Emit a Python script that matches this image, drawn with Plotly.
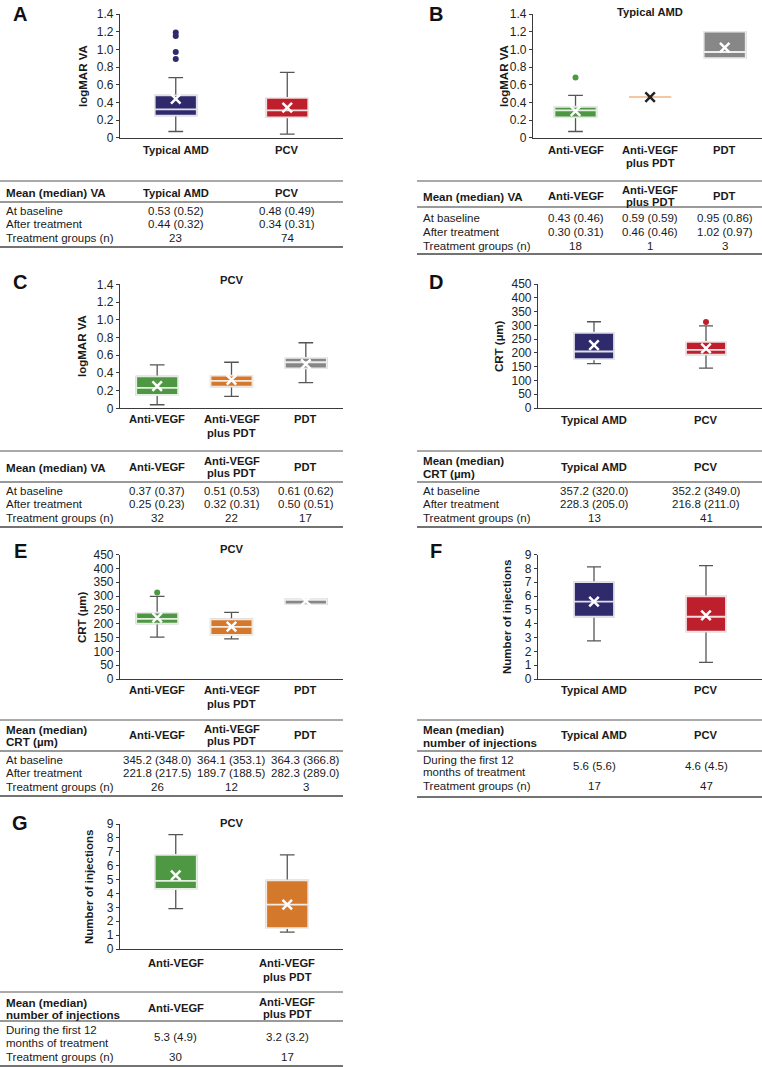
import plotly.graph_objects as go

W, H = 762, 1067
FONT = "Liberation Sans, Arial, sans-serif"
TXT = "#1a1a1a"
AXIS = "#3a3a3a"
WHISK = "#555555"
NAVY = "#2e2a6c"
RED = "#bd1f2c"
GREEN = "#4f9843"
ORANGE = "#d4782c"
GRAY = "#878787"
PEACH = "#f4c6a2"
OUTLINE = "rgba(255,255,255,0.85)"

# ---------------- data ----------------
# Panel A: logMAR VA, Typical AMD vs PCV
a_cats = ["Typical AMD", "PCV"]
a_q1 = [0.25, 0.23]
a_med = [0.32, 0.31]
a_q3 = [0.48, 0.45]
a_lo = [0.07, 0.04]
a_hi = [0.68, 0.74]
a_mean = [0.44, 0.34]
a_out_x = ["Typical AMD", "Typical AMD", "Typical AMD", "Typical AMD"]
a_out_y = [0.89, 0.97, 1.15, 1.19]
a_tab_base = ["0.53 (0.52)", "0.48 (0.49)"]
a_tab_after = ["0.44 (0.32)", "0.34 (0.31)"]
a_tab_n = ["23", "74"]

# Panel B: logMAR VA, Typical AMD by treatment
b_cats = ["Anti-VEGF", "Anti-VEGF plus PDT", "PDT"]
b_q1 = [0.23, 0.46, 0.90]
b_med = [0.31, 0.46, 0.97]
b_q3 = [0.35, 0.46, 1.20]
b_lo = [0.07, 0.46, 0.90]
b_hi = [0.48, 0.46, 1.20]
b_mean = [0.30, 0.46, 1.02]
b_out_x = ["Anti-VEGF"]
b_out_y = [0.68]
b_tab_base = ["0.43 (0.46)", "0.59 (0.59)", "0.95 (0.86)"]
b_tab_after = ["0.30 (0.31)", "0.46 (0.46)", "1.02 (0.97)"]
b_tab_n = ["18", "1", "3"]

# Panel C: logMAR VA, PCV by treatment
c_cats = ["Anti-VEGF", "Anti-VEGF plus PDT", "PDT"]
c_q1 = [0.15, 0.245, 0.45]
c_med = [0.23, 0.31, 0.52]
c_q3 = [0.36, 0.37, 0.57]
c_lo = [0.04, 0.135, 0.29]
c_hi = [0.49, 0.52, 0.74]
c_mean = [0.25, 0.32, 0.50]
c_tab_base = ["0.37 (0.37)", "0.51 (0.53)", "0.61 (0.62)"]
c_tab_after = ["0.25 (0.23)", "0.32 (0.31)", "0.50 (0.51)"]
c_tab_n = ["32", "22", "17"]

# Panel D: CRT, Typical AMD vs PCV
d_cats = ["Typical AMD", "PCV"]
d_q1 = [177, 194]
d_med = [205, 211]
d_q3 = [273, 240]
d_lo = [161, 145]
d_hi = [313, 298]
d_mean = [228.3, 216.8]
d_out_x = ["PCV"]
d_out_y = [312]
d_tab_base = ["357.2 (320.0)", "352.2 (349.0)"]
d_tab_after = ["228.3 (205.0)", "216.8 (211.0)"]
d_tab_n = ["13", "41"]

# Panel E: CRT, PCV by treatment
e_cats = ["Anti-VEGF", "Anti-VEGF plus PDT", "PDT"]
e_q1 = [200, 159, 270]
e_med = [217.5, 188.5, 289]
e_q3 = [240, 216, 290]
e_lo = [151, 145, 270]
e_hi = [299, 241, 290]
e_mean = [221.8, 189.7, 282.3]
e_out_x = ["Anti-VEGF"]
e_out_y = [313]
e_tab_base = ["345.2 (348.0)", "364.1 (353.1)", "364.3 (366.8)"]
e_tab_after = ["221.8 (217.5)", "189.7 (188.5)", "282.3 (289.0)"]
e_tab_n = ["26", "12", "3"]

# Panel F: injections, Typical AMD vs PCV
f_cats = ["Typical AMD", "PCV"]
f_q1 = [4.5, 3.42]
f_med = [5.6, 4.5]
f_q3 = [7.0, 5.98]
f_lo = [2.75, 1.2]
f_hi = [8.1, 8.2]
f_mean = [5.6, 4.6]
f_tab_first = ["5.6 (5.6)", "4.6 (4.5)"]
f_tab_n = ["17", "47"]

# Panel G: injections, PCV by treatment
g_cats = ["Anti-VEGF", "Anti-VEGF plus PDT"]
g_q1 = [4.32, 1.5]
g_med = [4.9, 3.2]
g_q3 = [6.77, 4.94]
g_lo = [2.9, 1.22]
g_hi = [8.23, 6.77]
g_mean = [5.3, 3.2]
g_tab_first = ["5.3 (4.9)", "3.2 (3.2)"]
g_tab_n = ["30", "17"]

va_ticks = [0, 0.2, 0.4, 0.6, 0.8, 1.0, 1.2, 1.4]
va_ticktext = ["0", "0.2", "0.4", "0.6", "0.8", "1.0", "1.2", "1.4"]
crt_ticks = [0, 50, 100, 150, 200, 250, 300, 350, 400, 450]
inj_ticks = [0, 1, 2, 3, 4, 5, 6, 7, 8, 9]

cat_labels = {
    "Typical AMD": ["Typical AMD"],
    "PCV": ["PCV"],
    "Anti-VEGF": ["Anti-VEGF"],
    "Anti-VEGF plus PDT": ["Anti-VEGF", "plus PDT"],
    "PDT": ["PDT"],
}

# ---------------- helpers ----------------
fig = go.Figure()
annotations = []
shapes = []
layout_axes = {}


def py(y):
    return 1 - y / H


def txt(x, y, s, size=11.5, bold=False, xanchor="center", xref="paper", angle=0, color=TXT):
    annotations.append(dict(
        x=(x / W) if xref == "paper" else x, y=py(y), xref=xref, yref="paper",
        text=f"<b>{s}</b>" if bold else s, showarrow=False,
        font=dict(size=size, family=FONT, color=color),
        xanchor=xanchor, yanchor="middle", textangle=angle))


def hline(x0, x1, y, color, width):
    shapes.append(dict(type="line", xref="paper", yref="paper", x0=x0 / W, x1=x1 / W,
                       y0=py(y), y1=py(y), line=dict(color=color, width=width)))


def add_panel(n, x0, x1, ytop, ybot, xrange, ymax, tickvals, ticktext, cats, colors,
              q1, med, q3, lo, hi, mean, boxw, label_y, title_y_lab, ylab_x, ylab,
              out_x=None, out_y=None, out_color=None, mean_colors=None,
              title=None, title_y=None):
    xa = "x" if n == 1 else f"x{n}"
    ya = "y" if n == 1 else f"y{n}"
    layout_axes["xaxis" if n == 1 else f"xaxis{n}"] = dict(
        domain=[x0 / W, x1 / W], range=xrange, type="category", categoryorder="array",
        categoryarray=cats, anchor=ya, showline=True, linecolor=AXIS, linewidth=1.2,
        showticklabels=False, ticks="", showgrid=False, zeroline=False, fixedrange=True,
        automargin=False)
    layout_axes["yaxis" if n == 1 else f"yaxis{n}"] = dict(
        domain=[py(ybot), py(ytop)], range=[0, ymax], anchor=xa, showline=True,
        linecolor=AXIS, linewidth=1.2, ticks="outside", ticklen=3, tickcolor=AXIS,
        tickwidth=1, tickvals=tickvals, ticktext=ticktext,
        tickfont=dict(size=12, family=FONT, color="#222222"),
        showgrid=False, zeroline=False, fixedrange=True, automargin=False)
    for i, c in enumerate(cats):
        # whiskers + caps
        fig.add_trace(go.Box(
            x=[c], q1=[q1[i]], median=[med[i]], q3=[q3[i]], lowerfence=[lo[i]],
            upperfence=[hi[i]], xaxis=xa, yaxis=ya, fillcolor=colors[i],
            line=dict(color=WHISK, width=1.3), whiskerwidth=0.35, width=boxw,
            boxpoints=False, showlegend=False, hoverinfo="skip"))
        # filled box with light outline and median line
        fig.add_trace(go.Box(
            x=[c], q1=[q1[i]], median=[med[i]], q3=[q3[i]], lowerfence=[q1[i]],
            upperfence=[q3[i]], xaxis=xa, yaxis=ya, fillcolor=colors[i],
            line=dict(color=OUTLINE, width=1.8), whiskerwidth=0, width=boxw,
            boxpoints=False, showlegend=False, hoverinfo="skip"))
    if out_x:
        fig.add_trace(go.Scatter(
            x=out_x, y=out_y, mode="markers", xaxis=xa, yaxis=ya,
            marker=dict(symbol="circle", size=6, color=out_color),
            showlegend=False, hoverinfo="skip", cliponaxis=False))
    mc = mean_colors if mean_colors else ["white"] * len(cats)
    fig.add_trace(go.Scatter(
        x=cats, y=mean, mode="markers", xaxis=xa, yaxis=ya,
        marker=dict(symbol="x-thin", size=9.5, line=dict(color=mc, width=2.5)),
        showlegend=False, hoverinfo="skip", cliponaxis=False))
    for c in cats:
        for k, line in enumerate(cat_labels[c]):
            txt(c, label_y + k * 13.5, line, size=11.2, bold=True, xref=xa)
    txt(ylab_x, title_y_lab, ylab, size=11.5, bold=True, angle=-90)
    if title:
        if len(cats) % 2:
            txt(cats[len(cats) // 2], title_y, title, size=11.2, bold=True, xref=xa)
        else:
            annotations.append(dict(x=0.5, xref=f"{xa} domain", y=py(title_y), yref="paper",
                                    text=f"<b>{title}</b>", showarrow=False,
                                    font=dict(size=11.2, family=FONT, color=TXT),
                                    xanchor="center", yanchor="middle"))


def add_table(xa, x0, x1, ytop, yhead, ybot, head_lines, col_heads, rows):
    hline(x0, x1, ytop, "#555555", 1)
    hline(x0, x1, yhead, "#9a9a9a", 2)
    hline(x0, x1, ybot, "#444444", 1.5)
    for s, y in head_lines:
        txt(x0 + 4, y, s, size=11.6, bold=True, xanchor="left")
    for c, lines in col_heads:
        for s, y in lines:
            txt(c, y, s, size=11.2, bold=True, xref=xa)
    for label_lines, cats, vals, vy in rows:
        for s, y in label_lines:
            txt(x0 + 4, y, s, size=11.5, xanchor="left")
        for c, v in zip(cats, vals):
            txt(c, vy, v, size=11.5, xref=xa)


# ---------------- panels ----------------
add_panel(1, 120, 343, 14, 137.7, [-0.5, 1.5], 1.4, va_ticks, va_ticktext, a_cats,
          [NAVY, RED], a_q1, a_med, a_q3, a_lo, a_hi, a_mean, 0.377, 150, 76, 83,
          "logMAR VA", out_x=a_out_x, out_y=a_out_y, out_color=NAVY)
add_panel(2, 533, 762, 14, 137.7, [-0.57, 2.5], 1.4, va_ticks, va_ticktext, b_cats,
          [GREEN, PEACH, GRAY], b_q1, b_med, b_q3, b_lo, b_hi, b_mean, 0.564, 150, 76, 504,
          "logMAR VA", out_x=b_out_x, out_y=b_out_y, out_color=GREEN,
          mean_colors=["white", "#222222", "white"], title="Typical AMD", title_y=12)
add_panel(3, 120, 343, 284.3, 408.3, [-0.5, 2.5], 1.4, va_ticks, va_ticktext, c_cats,
          [GREEN, ORANGE, GRAY], c_q1, c_med, c_q3, c_lo, c_hi, c_mean, 0.564, 419, 346, 82,
          "logMAR VA", title="PCV", title_y=280)
add_panel(4, 538, 762, 284, 408, [-0.5, 1.5], 450, crt_ticks, [str(v) for v in crt_ticks],
          d_cats, [NAVY, RED], d_q1, d_med, d_q3, d_lo, d_hi, d_mean, 0.357, 420, 346, 499,
          "CRT (µm)", out_x=d_out_x, out_y=d_out_y, out_color=RED)
add_panel(5, 120, 343, 554.5, 679, [-0.5, 2.5], 450, crt_ticks, [str(v) for v in crt_ticks],
          e_cats, [GREEN, ORANGE, GRAY], e_q1, e_med, e_q3, e_lo, e_hi, e_mean, 0.564, 690,
          617, 82, "CRT (µm)", out_x=e_out_x, out_y=e_out_y, out_color=GREEN,
          title="PCV", title_y=549)
add_panel(6, 538, 762, 554.5, 679, [-0.5, 1.5], 9, inj_ticks, [str(v) for v in inj_ticks],
          f_cats, [NAVY, RED], f_q1, f_med, f_q3, f_lo, f_hi, f_mean, 0.357, 690, 617, 507,
          "Number of injections")
add_panel(7, 120, 343, 824, 949, [-0.5, 1.5], 9, inj_ticks, [str(v) for v in inj_ticks],
          g_cats, [GREEN, ORANGE], g_q1, g_med, g_q3, g_lo, g_hi, g_mean, 0.377, 963, 887, 89,
          "Number of injections", title="PCV", title_y=823)

# the single-value group in panel B is drawn as a peach line
for tr in fig.data:
    if isinstance(tr, go.Box) and tr.xaxis == "x2" and list(tr.x) == ["Anti-VEGF plus PDT"]:
        tr.line.color = PEACH
        tr.line.width = 2

# ---------------- tables ----------------
add_table("x", 0, 343, 181, 202, 247,
          [("Mean (median) VA", 193)],
          [("Typical AMD", [("Typical AMD", 193)]), ("PCV", [("PCV", 193)])],
          [([("At baseline", 211)], a_cats, a_tab_base, 211),
           ([("After treatment", 224)], a_cats, a_tab_after, 224),
           ([("Treatment groups (n)", 238)], a_cats, a_tab_n, 238)])
add_table("x2", 417, 762, 181, 207, 254,
          [("Mean (median) VA", 196)],
          [("Anti-VEGF", [("Anti-VEGF", 196)]),
           ("Anti-VEGF plus PDT", [("Anti-VEGF", 190), ("plus PDT", 202)]),
           ("PDT", [("PDT", 196)])],
          [([("At baseline", 218)], b_cats, b_tab_base, 218),
           ([("After treatment", 232)], b_cats, b_tab_after, 232),
           ([("Treatment groups (n)", 246)], b_cats, b_tab_n, 246)])
add_table("x3", 0, 343, 451, 482, 527,
          [("Mean (median) VA", 467)],
          [("Anti-VEGF", [("Anti-VEGF", 467)]),
           ("Anti-VEGF plus PDT", [("Anti-VEGF", 461), ("plus PDT", 473)]),
           ("PDT", [("PDT", 467)])],
          [([("At baseline", 491)], c_cats, c_tab_base, 491),
           ([("After treatment", 504)], c_cats, c_tab_after, 504),
           ([("Treatment groups (n)", 518)], c_cats, c_tab_n, 518)])
add_table("x4", 417, 762, 451, 482, 527,
          [("Mean (median)", 461), ("CRT (µm)", 473)],
          [("Typical AMD", [("Typical AMD", 467)]), ("PCV", [("PCV", 467)])],
          [([("At baseline", 491)], d_cats, d_tab_base, 491),
           ([("After treatment", 504)], d_cats, d_tab_after, 504),
           ([("Treatment groups (n)", 518)], d_cats, d_tab_n, 518)])
add_table("x5", 0, 343, 720, 751, 796,
          [("Mean (median)", 729), ("CRT (µm)", 741)],
          [("Anti-VEGF", [("Anti-VEGF", 735)]),
           ("Anti-VEGF plus PDT", [("Anti-VEGF", 729), ("plus PDT", 741)]),
           ("PDT", [("PDT", 735)])],
          [([("At baseline", 760)], e_cats, e_tab_base, 760),
           ([("After treatment", 773)], e_cats, e_tab_after, 773),
           ([("Treatment groups (n)", 787)], e_cats, e_tab_n, 787)])
add_table("x6", 417, 762, 720, 751, 797,
          [("Mean (median)", 729), ("number of injections", 742)],
          [("Typical AMD", [("Typical AMD", 735)]), ("PCV", [("PCV", 735)])],
          [([("During the first 12", 760), ("months of treatment", 772)], f_cats, f_tab_first, 766),
           ([("Treatment groups (n)", 786)], f_cats, f_tab_n, 786)])
add_table("x7", 0, 343, 992, 1021, 1066,
          [("Mean (median)", 1002), ("number of injections", 1014)],
          [("Anti-VEGF", [("Anti-VEGF", 1008)]),
           ("Anti-VEGF plus PDT", [("Anti-VEGF", 1002), ("plus PDT", 1014)])],
          [([("During the first 12", 1030), ("months of treatment", 1043)], g_cats, g_tab_first, 1037),
           ([("Treatment groups (n)", 1057)], g_cats, g_tab_n, 1057)])

# ---------------- panel letters ----------------
for letter, x, y in [("A", 20, 14), ("B", 436, 14), ("C", 20, 282), ("D", 436, 282),
                     ("E", 20, 551), ("F", 436, 551), ("G", 20, 823)]:
    txt(x, y, letter, size=20, bold=True, color="#111111")

fig.update_layout(
    width=W, height=H, margin=dict(l=0, r=0, t=0, b=0, pad=0, autoexpand=False),
    paper_bgcolor="white", plot_bgcolor="white", showlegend=False,
    boxmode="overlay", annotations=annotations, shapes=shapes,
    font=dict(family=FONT), **layout_axes)

fig.write_html("out.html", config={"displayModeBar": False},
               post_script="document.body.style.margin='0px';document.body.style.overflow='hidden';")
